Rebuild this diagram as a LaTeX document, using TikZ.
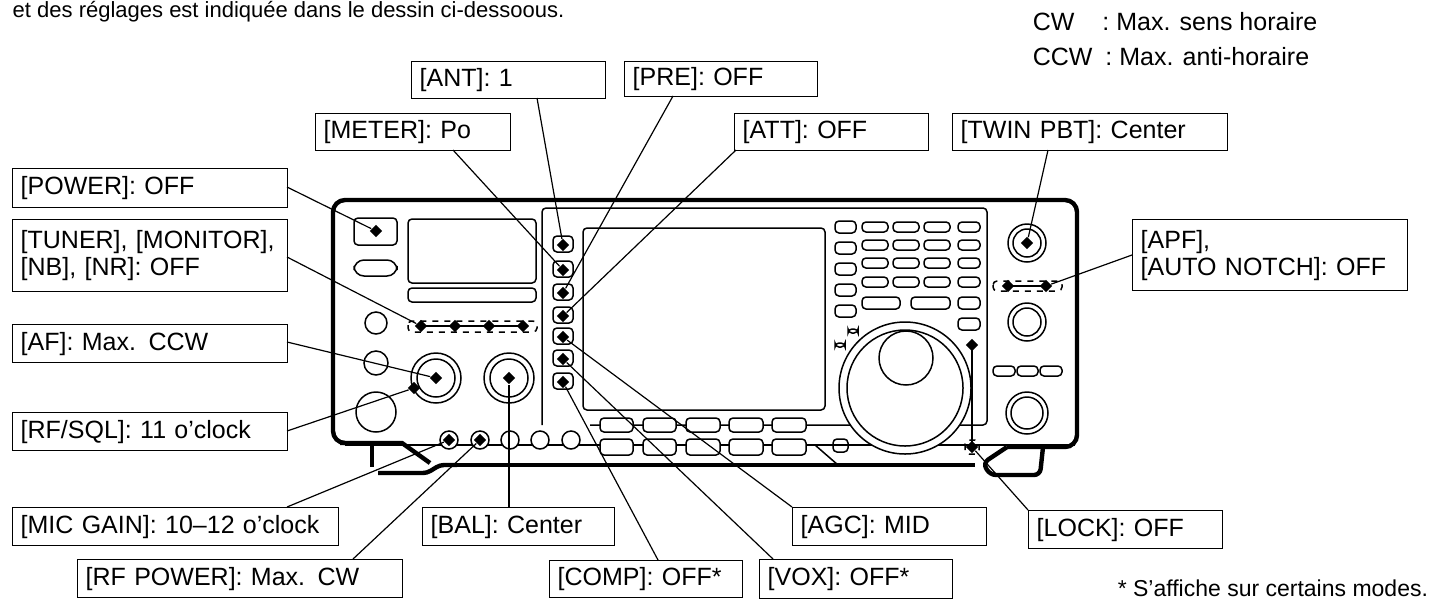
\documentclass[tikz,border=0pt]{standalone}
\usepackage{fontspec}
\setmainfont{Liberation Sans}
\usetikzlibrary{shapes.geometric}
\begin{document}
\begin{tikzpicture}[x=0.5pt,y=-0.5pt,line width=0.75pt,
  lbl/.style={draw,line width=0.7pt,anchor=north west,inner xsep=4pt,inner ysep=0pt,font=\fontsize{12.5}{13.5}\selectfont,align=left,text width=#1},
  dot/.style={diamond,fill,inner sep=1.6pt},
  rr/.style={rounded corners=2pt},
  ld/.style={line width=0.6pt}]
\useasboundingbox (0,0) rectangle (1454,606);
% texts
\node[anchor=base west,inner sep=0pt,font=\fontsize{11}{13}\selectfont] (intro) at (12,17) {et des réglages est indiquée dans le dessin ci-dessoous.};
\node[anchor=base west,inner sep=0pt,font=\fontsize{12.5}{14}\selectfont] (cw) at (1032,30) {CW\hspace{14pt}: Max. sens horaire};
\node[anchor=base west,inner sep=0pt,font=\fontsize{12.5}{14}\selectfont] (ccw) at (1032,65) {CCW\hspace{3pt} : Max. anti-horaire};
\node[anchor=base west,inner sep=0pt,font=\fontsize{11.5}{12}\selectfont] (foot) at (1117,596) {* S'affiche sur certains modes.};
% body
\draw[line width=2.2pt,rounded corners=6pt] (345,443) -- (333,443) -- (333,200) -- (1077,200) -- (1077,447) -- (1007,447);
\draw[line width=2.2pt] (340,443) -- (402,443) -- (430,463);
\draw[line width=2.2pt] (457,465) -- (975,465);
\draw[line width=2.2pt] (372,443) -- (372,467);
\draw[line width=2.2pt,rounded corners=2pt] (378,473) -- (427,473) -- (440,465) -- (457,465);
\draw[line width=2.2pt,rounded corners=3pt] (1007,447) -- (983,463) -- (990,475) -- (1040,475) -- (1043,447);
\draw[rr] (542,425) -- (542,208) -- (987,208) -- (987,425) -- (590,425);
\draw[rr] (583,228) rectangle (825,410);
\draw (345,445) -- (1075,445);
\draw (815,445) -- (838,465);
% left section
\draw[rr] (354,218) rectangle (397,245);
\draw[rounded corners=5pt] (354,260) rectangle (397,276);
\draw[rr] (408,219) rectangle (536,283);
\draw[rr] (408,288) rectangle (536,302);
\draw[dashed,rr] (408,321) rectangle (537,332);
\draw (421,326) -- (523,326);
\node[dot] (tn1) at (421,326) {};\node[dot] (tn2) at (455,326) {};
\node[dot] (tn3) at (489,326) {};\node[dot] (tn4) at (523,326) {};
\draw (376,323) circle (11);
\draw (376,363) circle (12);
\draw (376,412) circle (20);
\draw (436,378) circle (25); \draw (436,378) circle (19);
\draw (509,378) circle (25); \draw (509,378) circle (19);
\node[dot] (af) at (436,378) {};
\node[dot] (rfsql) at (414,388) {};
\node[dot] (bal) at (509,378) {};
\foreach \x in {449,480,510,540,571}{\draw[fill=white] (\x,440) circle (9);}
\node[dot] (mic) at (449,440) {};\node[dot] (rfp) at (480,440) {};
\node[dot] (pwr) at (376,231) {};
% button column
\foreach \y/\n in {245/b1,270/b2,293/b3,316/b4,337/b5,359/b6,382/b7}{
  \draw[rr] (553,\y-9) rectangle (573,\y+7);
  \node[dot] (\n) at (563,\y) {};}
% bottom buttons
\foreach \a/\b in {600/633,643/676,686/720,729/763,772/806}{
  \draw[rr,fill=white] (\a,418) rectangle (\b,432);
  \draw[rr,fill=white] (\a,439) rectangle (\b,455);}
\draw[rr] (833,439) rectangle (848,452);
% key grid
\foreach \y in {222,240,258,277}{
  \foreach \a/\b in {862/888,893/919,924/950,958/980}{\draw[rr] (\a,\y) rectangle (\b,\y+10);}}
\foreach \y in {221,242,263,284,305}{\draw[rr] (835,\y) rectangle (856,\y+12);}
\draw[rr] (862,297) rectangle (900,309);\draw[rr] (911,297) rectangle (950,309);\draw[rr] (958,297) rectangle (980,309);
\draw[rr] (958,318) rectangle (980,330);
\draw[rounded corners=2pt] (848,329) rectangle (858,333);
\draw[rounded corners=2pt] (835,343) rectangle (845,347);
% main dial
\draw[fill=white] (905,388) circle (66); \draw (905,388) circle (58);
\draw (906,358) circle (27);
% lock
\draw (972,345) -- (972,447);
\node[dot] (lk1) at (972,345) {};
\draw[dashed,rr] (965,440) rectangle (979,454);
\node[dot] (lock) at (972,447) {};
% right column
\draw (1027,243) circle (19); \draw (1027,243) circle (14);
\node[dot] (twin) at (1027,243) {};
\draw[dashed,rr] (993,281) rectangle (1062,291);
\draw (1008,286) -- (1046,286);
\node[dot] (apf1) at (1008,286) {};\node[dot] (apf2) at (1046,286) {};
\draw (1027,322) circle (19); \draw (1027,322) circle (14);
\foreach \a/\b in {993/1015,1017/1038,1040/1062}{\draw[rr] (\a,366) rectangle (\b,376);}
\draw (1027,413) circle (21); \draw (1027,413) circle (16);
% labels
\node[lbl=89pt,minimum height=18.5pt] (L1) at (411,61) {[ANT]: 1};
\node[lbl=88.5pt,minimum height=17.5pt] (L2) at (624,61) {[PRE]: OFF};
\node[lbl=89.5pt,minimum height=18.5pt] (L3) at (315,113) {[METER]: Po};
\node[lbl=89pt,minimum height=18.5pt] (L4) at (734,113) {[ATT]: OFF};
\node[lbl=129.5pt,minimum height=18.5pt] (L5) at (952,113) {[TWIN PBT]: Center};
\node[lbl=129.5pt,minimum height=19.5pt] (L6) at (12,168) {[POWER]: OFF};
\node[lbl=129.5pt,minimum height=36pt] (L7) at (12,219) {[TUNER], [MONITOR],\\{}[NB], [NR]: OFF};
\node[lbl=129.5pt,minimum height=35.5pt] (L8) at (1132,219) {[APF],\\{}[AUTO NOTCH]: OFF};
\node[lbl=129.5pt,minimum height=19pt] (L9) at (12,324) {[AF]: Max. CCW};
\node[lbl=129.5pt,minimum height=19pt] (L10) at (12,412) {[RF/SQL]: 11 o'clock};
\node[lbl=155pt,minimum height=19pt] (L11) at (12,507) {[MIC GAIN]: 10–12 o'clock};
\node[lbl=154.5pt,minimum height=19pt] (L12) at (77,559) {[RF POWER]: Max. CW};
\node[lbl=88pt,minimum height=19pt] (L13) at (422,507) {[BAL]: Center};
\node[lbl=88.5pt,minimum height=18.5pt] (L14) at (549,560) {[COMP]: OFF*};
\node[lbl=88.5pt,minimum height=19.5pt] (L15) at (759,559) {[VOX]: OFF*};
\node[lbl=89pt,minimum height=19pt] (L16) at (792,507) {[AGC]: MID};
\node[lbl=89pt,minimum height=19pt] (L17) at (1028,510) {[LOCK]: OFF};
% leaders
\coordinate (c1) at (537,98); \draw[ld] (c1) -- (b1);
\coordinate (c2) at (673,96); \draw[ld] (c2) -- (b3);
\coordinate (c3) at (453,150); \draw[ld] (c3) -- (b2);
\coordinate (c4) at (736,150); \draw[ld] (c4) -- (b4);
\coordinate (c5) at (1048,150); \draw[ld] (c5) -- (twin);
\coordinate (c6) at (287,187); \draw[ld] (c6) -- (pwr);
\coordinate (c7) at (287,257); \draw[ld] (c7) -- (tn1);
\coordinate (c8) at (1132,255); \draw[ld] (c8) -- (apf2);
\coordinate (c9) at (287,342); \draw[ld] (c9) -- (af);
\coordinate (c10) at (287,431); \draw[ld] (c10) -- (rfsql);
\coordinate (c11) at (287,507); \draw[ld] (c11) -- (mic);
\coordinate (c12) at (353,559); \draw[ld] (c12) -- (rfp);
\coordinate (c13) at (509,507); \draw[ld] (c13) -- (bal);
\coordinate (c14) at (658,560); \draw[ld] (c14) -- (b7);
\coordinate (c15) at (773,559); \draw[ld] (c15) -- (b6);
\coordinate (c16) at (792,507); \draw[ld] (c16) -- (b5);
\coordinate (c17) at (1028,510); \draw[ld] (c17) -- (lock);
\end{tikzpicture}
\end{document}
